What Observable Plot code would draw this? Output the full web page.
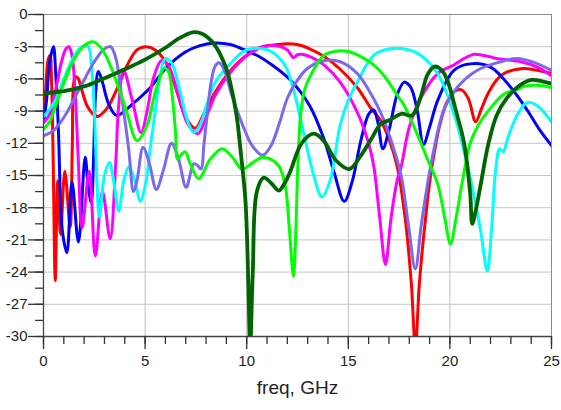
<!DOCTYPE html>
<html>
<head>
<meta charset="utf-8">
<script src="https://cdn.jsdelivr.net/npm/d3@7"></script>
<script src="https://cdn.jsdelivr.net/npm/@observablehq/plot@0.6"></script>
<style>
  html, body { margin: 0; padding: 0; background: #fff; }
</style>
</head>
<body>
<div id="chart"></div>
<script>
// ---- data: [freq GHz, dB] ----
const redS = [[0,-9.7],[0.12,-6.5],[0.22,-4.3],[0.32,-3.8],[0.4,-6.5],[0.48,-14],[0.58,-24.8],[0.7,-15.5],[0.84,-20.5],[1.05,-14.6],[1.31,-19.8],[1.42,-12],[1.5,-6.2],[1.6,-5.8],[1.72,-6],[1.85,-6.8],[2.2,-8.7],[2.65,-9.5],[3.1,-8.8],[3.6,-7],[4.1,-4.8],[4.6,-3.3],[5.05,-3.0],[5.5,-3.3],[6.0,-4.4],[6.5,-6.8],[7.0,-9.6],[7.47,-10.6],[7.9,-9.2],[8.46,-7.2],[9.28,-5.05],[10.1,-3.65],[10.8,-3.0],[11.5,-2.8],[12.0,-2.72],[12.5,-2.8],[13.1,-3.2],[13.8,-3.9],[14.6,-5.1],[15.44,-6.8],[16.1,-8.7],[16.6,-9.9],[17.0,-11.6],[17.4,-14.1],[17.8,-19],[18.1,-25],[18.3,-31],[18.5,-25],[18.8,-19],[19.05,-15],[19.5,-10.3],[19.85,-8.2],[20.2,-7.2],[20.55,-7.0],[20.9,-7.8],[21.27,-10.0],[21.55,-8.8],[21.84,-7.5],[22.3,-6.1],[22.66,-5.5],[23.5,-5.05],[24.3,-5.2],[25,-5.5]];
const blueS = [[0,-10],[0.15,-8],[0.3,-4.5],[0.49,-3.0],[0.6,-5.5],[0.74,-11.1],[0.85,-18],[0.95,-20.5],[1.15,-22.2],[1.4,-15.6],[1.72,-21.2],[2.05,-13.3],[2.2,-16],[2.35,-17.5],[2.47,-13],[2.56,-7.5],[2.7,-5.3],[2.9,-6.3],[3.2,-8.3],[3.6,-9.4],[4.4,-8.3],[5.26,-6.8],[6.0,-5.05],[6.98,-3.5],[7.7,-2.9],[8.46,-2.65],[9.2,-2.8],[9.77,-3.2],[10.5,-3.8],[11.25,-4.7],[12.15,-6.1],[13.1,-8.5],[13.8,-11.6],[14.3,-14.7],[14.8,-17.4],[15.2,-15.5],[15.6,-11.9],[16.0,-9.3],[16.25,-8.9],[16.45,-10],[16.7,-12.5],[17.0,-10.8],[17.4,-7.5],[17.75,-6.3],[18.0,-6.6],[18.15,-7.1],[18.4,-9],[18.7,-12.1],[19.0,-10.5],[19.4,-8],[20.2,-5.2],[21.0,-4.6],[22.0,-4.9],[23.0,-6.8],[23.8,-8.9],[24.4,-10.7],[25,-12.2]];
const magentaS = [[0,-10.1],[0.3,-9.3],[0.6,-7],[0.9,-4.3],[1.1,-3.2],[1.25,-3.0],[1.4,-3.8],[1.55,-7],[1.7,-13],[1.9,-19.9],[2.25,-14.6],[2.55,-22.5],[2.9,-16.5],[3.28,-20.9],[3.55,-14],[3.7,-8.5],[3.94,-5.2],[4.35,-7.85],[4.8,-11],[5.1,-9],[5.4,-6],[5.8,-4.3],[6.1,-4.6],[6.6,-7.2],[7.1,-10.2],[7.6,-11.1],[8.0,-9.6],[8.46,-7.5],[9.28,-5.2],[10.1,-3.7],[10.8,-3.0],[11.6,-2.95],[12.0,-3.3],[12.3,-4.0],[12.5,-3.75],[12.7,-3.7],[13.2,-4.0],[13.8,-4.7],[14.6,-6.3],[15.44,-9.1],[16.0,-12],[16.25,-14.1],[16.55,-19],[16.83,-23.3],[17.1,-19],[17.4,-15.5],[17.6,-14.2],[18.0,-10.5],[18.56,-7.8],[19.4,-5.5],[20.2,-4.7],[20.7,-4.1],[21.2,-3.7],[21.6,-3.8],[22.0,-3.95],[22.3,-4.1],[23.5,-4.4],[24.3,-4.9],[25,-5.7]];
const cyanS = [[0,-9.5],[0.5,-8.3],[1.0,-6],[1.5,-3.9],[1.9,-3.0],[2.2,-3.0],[2.35,-4.5],[2.5,-9],[2.6,-14],[2.75,-18.9],[3.0,-15],[3.25,-13.8],[3.45,-15.5],[3.7,-18.3],[3.95,-15.5],[4.2,-14.2],[4.5,-15.5],[4.76,-17.4],[5.05,-15.5],[5.25,-12.5],[5.5,-9],[5.75,-5.6],[6.0,-4.1],[6.3,-4.5],[6.7,-7],[7.1,-10],[7.4,-11],[7.7,-10.3],[8.0,-8.6],[8.46,-6.3],[9.28,-4.4],[9.8,-3.5],[10.2,-3.2],[10.8,-3.2],[11.25,-3.5],[11.9,-4.8],[12.3,-7],[12.8,-11],[13.3,-15],[13.7,-17],[14.1,-15.5],[14.6,-10.3],[15.0,-8],[15.44,-6.3],[16.25,-3.8],[17.08,-3.2],[18.0,-3.3],[18.56,-3.8],[19.4,-5.5],[20.2,-9.25],[20.6,-12],[21.0,-15.2],[21.5,-20],[21.84,-23.9],[22.05,-20],[22.25,-14.5],[22.45,-12.5],[22.62,-12.8],[22.85,-11.5],[23.3,-9.4],[23.8,-8.2],[24.3,-8.5],[25,-10]];
const purpleS = [[0,-11.3],[0.5,-10.8],[1.0,-9.6],[1.5,-7.9],[2.0,-6.1],[2.5,-4.4],[3.0,-3.2],[3.3,-3.0],[3.55,-4],[3.86,-7.85],[4.19,-12.5],[4.43,-16.5],[4.6,-15.5],[4.9,-12.4],[5.2,-13.8],[5.55,-16.3],[5.9,-14.5],[6.3,-12.0],[6.65,-13.5],[7.02,-16.1],[7.4,-13.9],[7.6,-14.1],[7.75,-14.4],[7.9,-12],[8.05,-9.4],[8.25,-6.3],[8.45,-4.8],[8.65,-4.5],[8.9,-5.2],[9.28,-7.6],[9.8,-10.3],[10.3,-12.3],[10.8,-13.1],[11.2,-12.2],[11.58,-10.3],[12.0,-7.8],[12.4,-6.4],[12.97,-5.05],[13.8,-4.3],[14.6,-4.4],[15.44,-5.5],[16.25,-7.85],[16.7,-9.6],[17.08,-11.6],[17.6,-15],[17.95,-19.5],[18.3,-23.7],[18.6,-19.5],[19.05,-14.2],[19.7,-8.9],[20.36,-6.8],[21.35,-5.2],[22.5,-4.4],[23.3,-4.1],[24.2,-4.5],[25,-5.2]];
const greenS = [[0,-10.7],[0.3,-10],[0.6,-8.5],[1.0,-6.4],[1.5,-4.2],[2.0,-2.9],[2.46,-2.55],[2.9,-3.3],[3.3,-4.8],[3.6,-6.3],[4.1,-9.1],[4.6,-11.75],[5.1,-10.3],[5.4,-8],[5.6,-6.6],[5.95,-5.0],[6.15,-5.3],[6.35,-7.8],[6.5,-11],[6.6,-13.5],[6.8,-13.0],[6.98,-12.8],[7.2,-13.8],[7.64,-15.3],[8.2,-13.5],[8.79,-12.5],[9.3,-13.3],[9.77,-14.4],[10.3,-13.8],[10.76,-13.3],[11.2,-13.5],[11.58,-14.1],[11.9,-16],[12.1,-20],[12.3,-24.4],[12.42,-20],[12.5,-15],[12.65,-9.4],[12.85,-7],[13.14,-5.7],[13.8,-3.8],[14.5,-3.4],[15.0,-3.45],[15.6,-3.9],[16.25,-4.7],[16.8,-5.8],[17.4,-7.5],[17.73,-8.4],[18.4,-11.2],[18.9,-13.5],[19.4,-15.8],[19.75,-19],[20.03,-21.4],[20.3,-19],[20.6,-15.7],[21.0,-12],[21.4,-10.3],[21.84,-9.1],[22.66,-7.4],[23.3,-7.0],[23.65,-6.7],[24.3,-6.6],[25,-6.8]];
const darkGreenS = [[0,-7.35],[1.0,-7.15],[2.0,-6.7],[2.8,-6.1],[4.0,-5.1],[5.0,-4.2],[6.0,-3.1],[6.6,-2.3],[7.0,-1.9],[7.4,-1.65],[7.8,-1.8],[8.37,-2.7],[8.95,-4.8],[9.2,-6.45],[9.5,-9.4],[9.7,-12.7],[9.94,-17.4],[10.08,-25],[10.17,-31],[10.3,-24],[10.5,-16.5],[10.84,-15.2],[11.2,-15.7],[11.58,-16.4],[11.9,-15.6],[12.15,-14.6],[12.7,-12],[13.3,-11.1],[13.8,-11.8],[14.4,-13.6],[15.05,-14.4],[15.6,-13.2],[16.1,-11.7],[16.6,-10.2],[17.08,-9.8],[17.6,-9.25],[18.15,-9.4],[18.56,-7.7],[18.9,-5.6],[19.25,-4.85],[19.6,-5.2],[19.87,-6.1],[20.3,-9],[20.7,-12],[21.0,-16.7],[21.1,-19.5],[21.3,-18],[21.5,-16],[21.9,-12],[22.3,-9.4],[22.8,-7.8],[23.3,-6.8],[24.0,-6.1],[24.5,-6.2],[25,-6.45]];

const seriesList = [
  {name: "red", color: "#ff0000", data: redS, w: 3},
  {name: "blue", color: "#0000ff", data: blueS, w: 3},
  {name: "magenta", color: "#ff00ff", data: magentaS, w: 3},
  {name: "cyan", color: "#00ffff", data: cyanS, w: 3},
  {name: "purple", color: "#7b68ee", data: purpleS, w: 3},
  {name: "green", color: "#00ff00", data: greenS, w: 3},
  {name: "darkgreen", color: "#006400", data: darkGreenS, w: 3.8}
];

const freqTicks = [0, 5, 10, 15, 20, 25];
const freqGrid = [5, 10, 15, 20];
const freqMinor = d3.range(0, 26, 1);
const dbTicks = [0, -3, -6, -9, -12, -15, -18, -21, -24, -27, -30];
const dbMinor = d3.range(0, -30.1, -1.5);
const xLabel = ["freq, GHz"];

// plot geometry
const W = 561, H = 410, mL = 43, mR = 10, mT = 14, mB = 74;
const pxPerGHz = (W - mL - mR) / 25;
const pxPerDb = (H - mT - mB) / 30;

const lineMarks = seriesList.map(s =>
  Plot.line(s.data, {x: d => d[0], y: d => d[1], stroke: s.color, strokeWidth: s.w,
    curve: "catmull-rom", clip: true, strokeLinejoin: "round", strokeLinecap: "round"})
);

const tickStyle = {stroke: "#333", strokeWidth: 1.3};

const chart = Plot.plot({
  width: W,
  height: H,
  marginLeft: mL,
  marginRight: mR,
  marginTop: mT,
  marginBottom: mB,
  style: {fontFamily: "'Liberation Sans', Arial, sans-serif", fontSize: "15px", background: "#fff", color: "#222"},
  x: {domain: [0, 25]},
  y: {domain: [-30, 0]},
  marks: [
    Plot.gridY(dbTicks, {stroke: "#c8c8c8", strokeOpacity: 1}),
    Plot.gridX(freqGrid, {stroke: "#c0c0c0", strokeOpacity: 1}),
    Plot.frame({stroke: "#8c8c8c"}),
    ...lineMarks,
    Plot.ruleX([0], {stroke: "#444", strokeWidth: 1.3}),
    Plot.ruleY([-30], {stroke: "#444", strokeWidth: 1.3}),
    Plot.axisY(dbTicks, {tickSize: 0, tickPadding: 16, fill: "#222", tickFormat: d => String(d), label: null}),
    Plot.axisX(freqTicks, {tickSize: 0, tickPadding: 19, fill: "#222", tickFormat: d => String(d), label: null}),
    Plot.text(xLabel, {text: d => d, frameAnchor: "bottom", dy: 57, fontSize: 19, fill: "#222"}),
    // y ticks (to the left of the axis)
    Plot.ruleY(dbMinor, {y: d => d, x1: 0, x2: -8 / pxPerGHz, ...tickStyle}),
    Plot.ruleY(dbTicks, {y: d => d, x1: 0, x2: -15 / pxPerGHz, ...tickStyle}),
    // x ticks (below the axis)
    Plot.ruleX(freqMinor, {x: d => d, y1: -30, y2: -30 - 8 / pxPerDb, ...tickStyle}),
    Plot.ruleX(freqTicks, {x: d => d, y1: -30, y2: -30 - 13 / pxPerDb, ...tickStyle})
  ]
});

document.getElementById("chart").appendChild(chart);
</script>
</body>
</html>
